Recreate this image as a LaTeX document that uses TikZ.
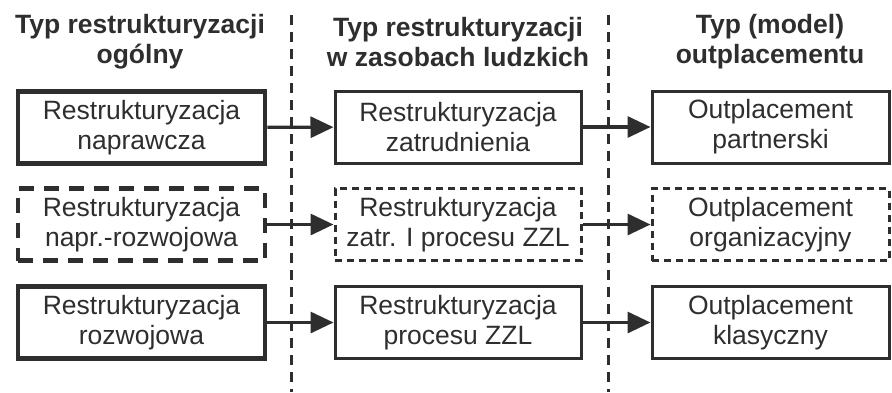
\documentclass[tikz,border=0pt]{standalone}
\usepackage{fontspec}
\setmainfont{Liberation Sans}
\usetikzlibrary{arrows.meta}
\definecolor{ink}{HTML}{2E2E2E}
\tikzset{
  box/.style={draw=ink, text=ink, minimum width=237pt, minimum height=72pt, inner sep=0pt, align=center, font=\fontsize{26.5}{30}\selectfont},
  boxA/.style={box, line width=4.5pt, minimum width=247pt},
  boxAd/.style={boxA, dash pattern=on 15pt off 10pt},
  boxB/.style={box, line width=3pt, minimum width=246pt},
  boxBd/.style={boxB, dash pattern=on 7pt off 5pt},
  boxC/.style={box, line width=3pt},
  boxCd/.style={boxC, dash pattern=on 7pt off 5pt},
  head/.style={text=ink, align=center, inner sep=0pt, font=\fontsize{26.5}{30}\selectfont\bfseries},
  divider/.style={draw=ink, line width=3pt, dash pattern=on 10pt off 7pt},
  conn/.style={draw=ink, line width=3.3pt, -{Triangle[length=23pt,width=21pt]}},
}
\begin{document}
\begin{tikzpicture}[x=1pt,y=-1pt]
\useasboundingbox (0,0) rectangle (892,392);
% headers
\node[head] (h1) at (140,42) {Typ restrukturyzacji\\ogólny};
\node[head] (h2) at (458,42) {Typ restrukturyzacji\\w zasobach ludzkich};
\node[head] (h3) at (770,42) {Typ (model)\\outplacementu};
% dividers
\coordinate (d1t) at (291,15); \coordinate (d1b) at (291,392);
\coordinate (d2t) at (608,15); \coordinate (d2b) at (608,392);
\draw[divider] (d1t) -- (d1b);
\draw[divider] (d2t) -- (d2b);
% column 1
\node[boxA]  (a1) at (141.5,127.5) {Restrukturyzacja\\naprawcza};
\node[boxAd] (a2) at (141.5,224.5) {Restrukturyzacja\\napr.-rozwojowa};
\node[boxA]  (a3) at (141.5,322.5) {Restrukturyzacja\\rozwojowa};
% column 2
\node[boxB]  (b1) at (458,127) {Restrukturyzacja\\zatrudnienia};
\node[boxBd] (b2) at (458,224.5) {Restrukturyzacja\\zatr. I procesu ZZL};
\node[boxB]  (b3) at (458,322.5) {Restrukturyzacja\\procesu ZZL};
% column 3
\node[boxC]  (c1) at (770.5,127) {Outplacement\\partnerski};
\node[boxCd] (c2) at (770.5,224.5) {Outplacement\\organizacyjny};
\node[boxC]  (c3) at (770.5,322.5) {Outplacement\\klasyczny};
% connectors
\draw[conn] (a1) -- (b1);
\draw[conn] (a2) -- (b2);
\draw[conn] (a3) -- (b3);
\draw[conn] (b1) -- (c1);
\draw[conn] (b2) -- (c2);
\draw[conn] (b3) -- (c3);
\end{tikzpicture}
\end{document}
